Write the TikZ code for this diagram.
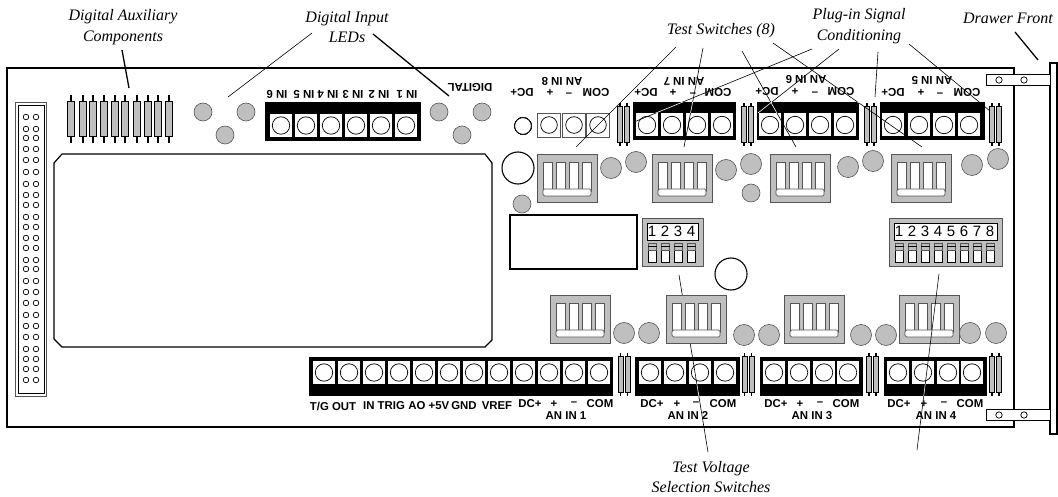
\documentclass[tikz,border=0pt]{standalone}
\usepackage{fontspec}
\setmainfont{Liberation Serif}
\newfontfamily\tagfont{Liberation Sans}
\definecolor{ledgray}{HTML}{BFBFBF}
\definecolor{edgegray}{HTML}{555555}
\tikzset{
  board/.style={draw,line width=1.2pt},
  note/.style={font=\itshape\fontsize{16}{20.5}\selectfont,align=center,inner sep=0pt},
  tag/.style={font=\tagfont\bfseries\fontsize{11.4}{12}\selectfont,inner sep=0pt},
  tagr/.style={tag,rotate=180},
  digit/.style={font=\tagfont\fontsize{15}{16}\selectfont,inner sep=0pt},
  leader/.style={line width=.6pt},
  heavy/.style={line width=1.3pt},
  led/.style={draw=edgegray,fill=ledgray,line width=.6pt},
  strip/.style={fill=black},
  termbox/.style={fill=white},
  termhole/.style={draw,fill=white,line width=.7pt},
  block/.style={draw=edgegray,fill=ledgray,line width=.8pt},
  swwhite/.style={draw=edgegray,fill=white,line width=.7pt},
  part/.style={draw=black,fill=ledgray,line width=.6pt},
  pin/.style={line width=1.1pt},
  testsw/.pic={
    \draw[block] (0,0) rectangle (60,48);
    \foreach \xr in {6,19,32,45}
    \draw[swwhite] (\xr,8) rectangle +(9,29);
    \draw[swwhite,rounded corners=1.5pt] (6,35) rectangle (54,42);
  },
  dipblock/.pic={
    \draw[block] (0,0) rectangle (9+13*#1,48);
    \draw[swwhite,draw=black] (5,5) rectangle (4+13*#1,22);
    \foreach \n in {1,...,#1}{
      \node[digit] (d\n) at (10+13*\n-13,13.7) {\n};
      \draw[swwhite,draw=black] (6+13*\n-13,25) rectangle +(8.5,19);
      \draw[part,draw=edgegray] (6+13*\n-13,25) rectangle +(8.5,7);
      \draw[line width=.5pt] (6+13*\n-13,28.5) -- +(8.5,0);
    }
  },
  plugin/.pic={
    \foreach \xr in {0,7}{
      \draw[pin] (\xr,0) -- (\xr,43);
      \draw[part] (\xr-2.5,3) rectangle (\xr+2.5,39);
    }
  },
  auxpart/.pic={
    \draw[pin] (0,0) -- (0,48);
    \draw[part] (-3.5,6) rectangle (3.5,41);
  },
}
\newcommand{\borne}[2]{%
  \fill[termbox] (#1-11,#2-11.5) rectangle (#1+11,#2+11.5);
  \draw[termhole] (#1,#2) circle (8.7);}
\begin{document}
\begin{tikzpicture}[x=1pt,y=-1pt]
\useasboundingbox (0,0) rectangle (1058,497);
%
% board and drawer front
\draw[board] (7,68) rectangle (1014,427);
\draw[board,fill=white] (1050,63) rectangle (1057,434);
\foreach \ypos/\yhole in {74/80,409/415}{
  \draw[fill=white,line width=.8pt] (986,\ypos) rectangle (1050,\ypos+11.5);
  \draw[line width=.7pt] (999,\yhole) circle (3.2);
  \draw[line width=.7pt] (1024,\yhole) circle (3.2);
}
\draw[board] (62,154) -- (485,154) -- (492,163) -- (492,340) -- (485,347)
-- (62,347) -- (54,339) -- (54,163) -- cycle;
\draw[board] (510,215) rectangle (637,269);
\draw[line width=1.1pt] (518,168) circle (16);
\draw[line width=1.1pt] (731,274) circle (16);
%
% ribbon connector
\draw[edgegray,line width=.8pt] (15.3,102) rectangle (46.7,396);
\draw[line width=.7pt] (18.3,105) rectangle (44,393);
\foreach \ypos in {117,129,138,149,160,172,184,195,205,217,227,238,248,
260,269,281,292,303,315,326,337,349,359,369,380}{
  \draw[line width=.7pt] (26,\ypos) circle (2.8);
  \draw[line width=.7pt] (36,\ypos) circle (2.8);
}
%
% auxiliary parts and plug-in parts
\foreach \xpos in {71,83,93,104,115,125,137,148,158,169}
\pic at (\xpos,95) {auxpart};
\foreach \xpos in {620,744,867,992}
\pic at (\xpos,103) {plugin};
\foreach \xpos in {620.5,744.5,869,992}
\pic at (\xpos,353) {plugin};
%
% terminal strips
\fill[strip] (265,102) rectangle (421,141);
\foreach \xpos in {281,306,331,356,381,406}
\borne{\xpos}{125.5}
\fill[strip] (633,102) rectangle (736,140);
\fill[strip] (757,102) rectangle (859,140);
\fill[strip] (880,102) rectangle (985,140);
\foreach \xpos in {647,672,697,722,770,795,820,845,893,919,944,969}
\borne{\xpos}{125}
\foreach \xpos in {549,574,598}{
  \draw[edgegray,fill=white,line width=.7pt] (\xpos-11.5,113) rectangle (\xpos+11.5,137);
  \draw[termhole] (\xpos,125) circle (8.3);
}
\draw[termhole] (523,126) circle (8.3);
\fill[strip] (309,357) rectangle (613,396);
\fill[strip] (635,357) rectangle (740,396);
\fill[strip] (760,357) rectangle (863,396);
\fill[strip] (884,357) rectangle (987,396);
\foreach \xpos in {324,349,374,399,424,449,474,499,524,549,574,599,
650,675,700,725,774,799,824,848,898,923,948,972}
\borne{\xpos}{372.5}
%
% this leader runs behind the switch
\coordinate (voltfar) at (708,452);
\coordinate (voltnear) at (679,275);
\draw[leader] (voltfar) -- (voltnear);
%
% test switches and selection blocks
\foreach \xpos in {537,652,770,891}
\pic at (\xpos,154) {testsw};
\foreach \xpos in {550,666,784,899}
\pic at (\xpos,295) {testsw};
\pic (fourway) at (642,218) {dipblock=4};
\pic (eightway) at (889,218) {dipblock=8};
%
% LEDs
\foreach \xpos/\ypos in {203/112,246/112,225/135,439/112,482/112,462/135,522/204,751/193}
\draw[led] (\xpos,\ypos) circle (9);
\foreach \xpos/\ypos in {611/168,636/162,726/170,751/164,848/167,873/161,972/165,998/159,
624/333,649/333,744/335,769/335,861/335,886/335,970/333,996/333}
\draw[led] (\xpos,\ypos) circle (10.5);
%
% inverted labels
\node[tagr] (digital) at (470,87) {DIGITAL};
\foreach \txt/\xpos [count=\n] in {IN 6/277,IN 5/304,IN 4/328,IN 3/353,IN 2/379,IN 1/407}
\node[tagr] (dig\n) at (\xpos,94) {\txt};
\node[tagr] (anin8) at (562,81) {AN IN 8};
\node[tagr] (anin7) at (684,81) {AN IN 7};
\node[tagr] (anin6) at (806,79) {AN IN 6};
\node[tagr] (anin5) at (932,80) {AN IN 5};
\foreach \txt/\xpos [count=\n] in {DC+/522,+/550,–/569,COM/596}
\node[tagr] (top8\n) at (\xpos,92) {\txt};
\foreach \txt/\xpos [count=\n] in {DC+/646,+/673,–/693,COM/718}
\node[tagr] (top7\n) at (\xpos,92) {\txt};
\foreach \txt/\xpos [count=\n] in {DC+/767,+/795,–/815,COM/841}
\node[tagr] (top6\n) at (\xpos,91) {\txt};
\foreach \txt/\xpos [count=\n] in {DC+/893,+/921,–/940,COM/967}
\node[tagr] (top5\n) at (\xpos,92) {\txt};
%
% lower labels
\foreach \txt/\xpos [count=\n] in {{T/G OUT}/333,IN TRIG/384,AO/417,+5V/439,GND/464,VREF/497}
\node[tag] (low\n) at (\xpos,406) {\txt};
\foreach \txt/\xpos [count=\n] in {DC+/530,+/554,–/574,COM/600}
\node[tag] (bot1\n) at (\xpos,404) {\txt};
\foreach \txt/\xpos [count=\n] in {DC+/652,+/677,–/696,COM/723}
\node[tag] (bot2\n) at (\xpos,404) {\txt};
\foreach \txt/\xpos [count=\n] in {DC+/776,+/800,–/820,COM/846}
\node[tag] (bot3\n) at (\xpos,404) {\txt};
\foreach \txt/\xpos [count=\n] in {DC+/899,+/924,–/944,COM/970}
\node[tag] (bot4\n) at (\xpos,404) {\txt};
\node[tag] (anin1) at (566,416) {AN IN 1};
\node[tag] (anin2) at (688,416) {AN IN 2};
\node[tag] (anin3) at (812,416) {AN IN 3};
\node[tag] (anin4) at (936,416) {AN IN 4};
%
% captions
\node[note] (auxnote) at (123,27) {Digital Auxiliary\\Components};
\node[note] (lednote) at (347,27) {Digital Input\\LEDs};
\node[note] (testnote) at (721,31) {Test Switches (8)};
\node[note] (plugnote) at (859,26) {Plug-in Signal\\Conditioning};
\node[note] (drawernote) at (1008,18) {Drawer Front};
\node[note] (voltnote) at (711,477) {Test Voltage\\Selection Switches};
%
% leader ends
\foreach \nm/\xpos/\ypos in {aa/122/50,ab/129/88,ba/312/33,bb/228/97,ca/373/34,cb/449/96,
da/676/47,db/576/147,ea/703/48,eb/684/147,fa/742/51,fb/796/147,ga/773/43,gb/922/147,
ha/812/49,hb/634/122,ia/839/49,ib/758/113,ja/878/52,jb/875/97,ka/909/44,kb/990/111,
la/1015/32,lb/1038/60,ma/939/274,mb/917/450}
\coordinate (\nm) at (\xpos,\ypos);
\draw[heavy] (aa) -- (ab);
\draw[leader] (ba) -- (bb);
\draw[heavy] (ca) -- (cb);
\draw[heavy] (la) -- (lb);
\foreach \a/\b in {da/db,ea/eb,fa/fb,ga/gb,ha/hb,ia/ib,ja/jb,ka/kb,ma/mb}
\draw[leader] (\a) -- (\b);
%
% leaders show white on the black strips
\begin{scope}
\clip (633,102) rectangle (736,113) (757,102) rectangle (859,113) (880,102) rectangle (985,113)
(635,384) rectangle (740,396) (884,384) rectangle (987,396);
\foreach \a/\b in {ea/eb,fa/fb,ga/gb,ha/hb,ia/ib,ma/mb,voltfar/voltnear}
\draw[leader,white] (\a) -- (\b);
\end{scope}
\end{tikzpicture}
\end{document}
